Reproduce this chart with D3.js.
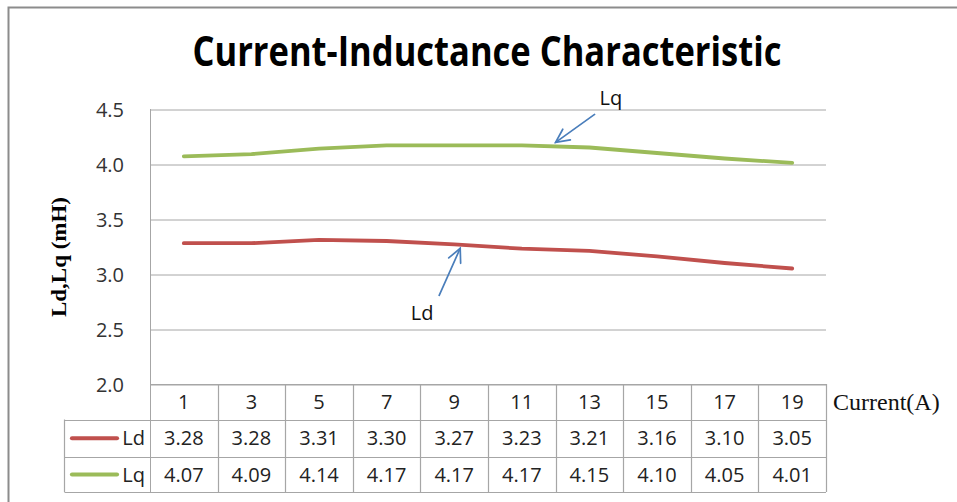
<!DOCTYPE html>
<html>
<head>
<meta charset="utf-8">
<script src="https://cdn.jsdelivr.net/npm/d3@7/dist/d3.min.js"></script>
<style>
  html, body { margin: 0; padding: 0; background: #fff; }
  svg { display: block; }
</style>
</head>
<body>
<svg id="chart" width="957" height="502"></svg>
<script>
// Current (A) at each measurement point
const currents = [1, 3, 5, 7, 9, 11, 13, 15, 17, 19];
// Inductances in mH
const ldValues = [3.28, 3.28, 3.31, 3.30, 3.27, 3.23, 3.21, 3.16, 3.10, 3.05];
const lqValues = [4.07, 4.09, 4.14, 4.17, 4.17, 4.17, 4.15, 4.10, 4.05, 4.01];
const yTicks = [2.0, 2.5, 3.0, 3.5, 4.0, 4.5];

const series = [
  { name: "Ld", values: ldValues, color: "#C0504D" },
  { name: "Lq", values: lqValues, color: "#9BBB59" }
];

// Callout arrows: anchored on a series at a given current, offsets in px
const callouts = [
  { series: "Lq", current: 12, tip: [0, -4], tail: [39, -28], text: [44, -37], anchor: "start" },
  { series: "Ld", current: 9, tip: [6, 4], tail: [-21, 47], text: [-38, 72], anchor: "middle" }
];

const svg = d3.select("#chart");
const W = 957, H = 502;
const plot = { left: 150, right: 826, top: 109, bottom: 384 };
const rowEdges = [384, 419.5, 457, 492];
const legendLeft = 64.5;

const font = "'Open Sans', 'Noto Sans', sans-serif";
const serif = "'Liberation Serif', 'DejaVu Serif', serif";
const gridColor = "#a6a6a6";

// outer chart frame
svg.append("path")
  .attr("d", `M8.5,${H + 2} V7.5 H${W + 2}`)
  .attr("fill", "none").attr("stroke", "#8c8c8c").attr("stroke-width", 2);

const x = d3.scaleBand().domain(currents).range([plot.left, plot.right]).paddingInner(0).paddingOuter(0);
const xc = c => x(c) + x.bandwidth() / 2;
// continuous position for positions between measured currents
const xCont = d3.scaleLinear().domain([currents[0], currents[currents.length - 1]])
  .range([xc(currents[0]), xc(currents[currents.length - 1])]);
const y = d3.scaleLinear().domain([2.0, 4.5]).range([plot.bottom, plot.top]);

// title
svg.append("text")
  .attr("x", 487).attr("y", 66)
  .attr("text-anchor", "middle")
  .attr("font-family", font).attr("font-weight", 700).attr("font-size", 41)
  .attr("textLength", 589).attr("lengthAdjust", "spacingAndGlyphs")
  .attr("fill", "#000")
  .text("Current-Inductance Characteristic");

// horizontal gridlines + left axis
const yAxis = d3.axisLeft(y).tickValues(yTicks).tickFormat(d3.format(".1f"))
  .tickSize(-(plot.right - plot.left)).tickPadding(26);
const gy = svg.append("g").attr("transform", `translate(${plot.left},0)`).call(yAxis);
gy.select(".domain").remove();
gy.selectAll(".tick line").attr("stroke", gridColor).attr("stroke-width", 1)
  .attr("transform", "translate(0,0.5)");
gy.selectAll(".tick text")
  .attr("font-family", font).attr("font-size", 20).attr("fill", "#333")
  .attr("dy", "0.36em");

// left vertical border of plot and table
svg.append("line")
  .attr("x1", plot.left + 0.5).attr("x2", plot.left + 0.5)
  .attr("y1", plot.top).attr("y2", rowEdges[3])
  .attr("stroke", gridColor);

// y-axis title
svg.append("text")
  .attr("transform", `translate(66,257) rotate(-90)`)
  .attr("text-anchor", "middle")
  .attr("font-family", serif).attr("font-weight", 700).attr("font-size", 22)
  .attr("textLength", 120).attr("lengthAdjust", "spacingAndGlyphs")
  .attr("fill", "#000")
  .text("Ld,Lq (mH)");

// data lines
const line = d3.line().x((d, i) => xc(currents[i])).y(d => y(d));
series.forEach(s => {
  svg.append("path")
    .datum(s.values)
    .attr("d", line)
    .attr("fill", "none")
    .attr("stroke", s.color)
    .attr("stroke-width", 3.8)
    .attr("stroke-linejoin", "round")
    .attr("stroke-linecap", "round");
});

// data table
const table = svg.append("g");
// horizontal rules
rowEdges.forEach((ry, i) => {
  table.append("line")
    .attr("x1", i === 0 ? plot.left : legendLeft).attr("x2", plot.right)
    .attr("y1", Math.round(ry) + 0.5).attr("y2", Math.round(ry) + 0.5)
    .attr("stroke", gridColor).attr("stroke-width", 1.2);
});
// vertical rules between columns
currents.forEach(c => {
  const cx = Math.round(x(c) + x.bandwidth()) + 0.5;
  table.append("line")
    .attr("x1", cx).attr("x2", cx)
    .attr("y1", rowEdges[0]).attr("y2", rowEdges[3])
    .attr("stroke", gridColor).attr("stroke-width", 1.2);
});
table.append("line")
  .attr("x1", legendLeft).attr("x2", legendLeft)
  .attr("y1", rowEdges[1]).attr("y2", rowEdges[3])
  .attr("stroke", gridColor).attr("stroke-width", 1.2);

// header row: currents
table.selectAll("text.hdr").data(currents).join("text")
  .attr("class", "hdr")
  .attr("x", d => xc(d)).attr("y", (rowEdges[0] + rowEdges[1]) / 2)
  .attr("dy", "0.36em")
  .attr("text-anchor", "middle")
  .attr("font-family", font).attr("font-size", 20).attr("fill", "#222")
  .text(d => d);

// series rows
series.forEach((s, si) => {
  const cy = (rowEdges[si + 1] + rowEdges[si + 2]) / 2;
  table.append("line")
    .attr("x1", 72).attr("x2", 117)
    .attr("y1", cy).attr("y2", cy)
    .attr("stroke", s.color).attr("stroke-width", 4.2)
    .attr("stroke-linecap", "round");
  table.append("text")
    .attr("x", 145).attr("y", cy).attr("dy", "0.36em")
    .attr("text-anchor", "end")
    .attr("font-family", font).attr("font-size", 20).attr("fill", "#222")
    .text(s.name);
  table.selectAll(`text.v${si}`).data(s.values).join("text")
    .attr("class", `v${si}`)
    .attr("x", (d, i) => xc(currents[i])).attr("y", cy).attr("dy", "0.36em")
    .attr("text-anchor", "middle")
    .attr("font-family", font).attr("font-size", 20).attr("fill", "#222")
    .text(d => d3.format(".2f")(d));
});

// x-axis title
svg.append("text")
  .attr("x", 833).attr("y", 410)
  .attr("font-family", serif).attr("font-size", 24).attr("fill", "#111")
  .text("Current(A)");

// callout arrows
const arrowColor = "#4A7EBB";
callouts.forEach(cl => {
  const s = series.find(d => d.name === cl.series);
  const v = d3.scaleLinear().domain(currents).range(s.values)(cl.current);
  const ax = xCont(cl.current), ay = y(v);
  const tx = ax + cl.tip[0], ty = ay + cl.tip[1];
  const sx = tx + cl.tail[0], sy = ty + cl.tail[1];
  const ang = Math.atan2(sy - ty, sx - tx);
  const len = 15, spread = 0.45;
  const g = svg.append("g").attr("stroke", arrowColor).attr("stroke-width", 1.7)
    .attr("fill", "none").attr("stroke-linecap", "round");
  g.append("line").attr("x1", sx).attr("y1", sy).attr("x2", tx).attr("y2", ty);
  g.append("path").attr("d",
    `M${tx + len * Math.cos(ang + spread)},${ty + len * Math.sin(ang + spread)} L${tx},${ty} L${tx + len * Math.cos(ang - spread)},${ty + len * Math.sin(ang - spread)}`);
  svg.append("text")
    .attr("x", tx + cl.text[0]).attr("y", ty + cl.text[1])
    .attr("text-anchor", cl.anchor)
    .attr("font-family", font).attr("font-size", 20).attr("fill", "#111")
    .text(cl.series);
});
</script>
</body>
</html>
